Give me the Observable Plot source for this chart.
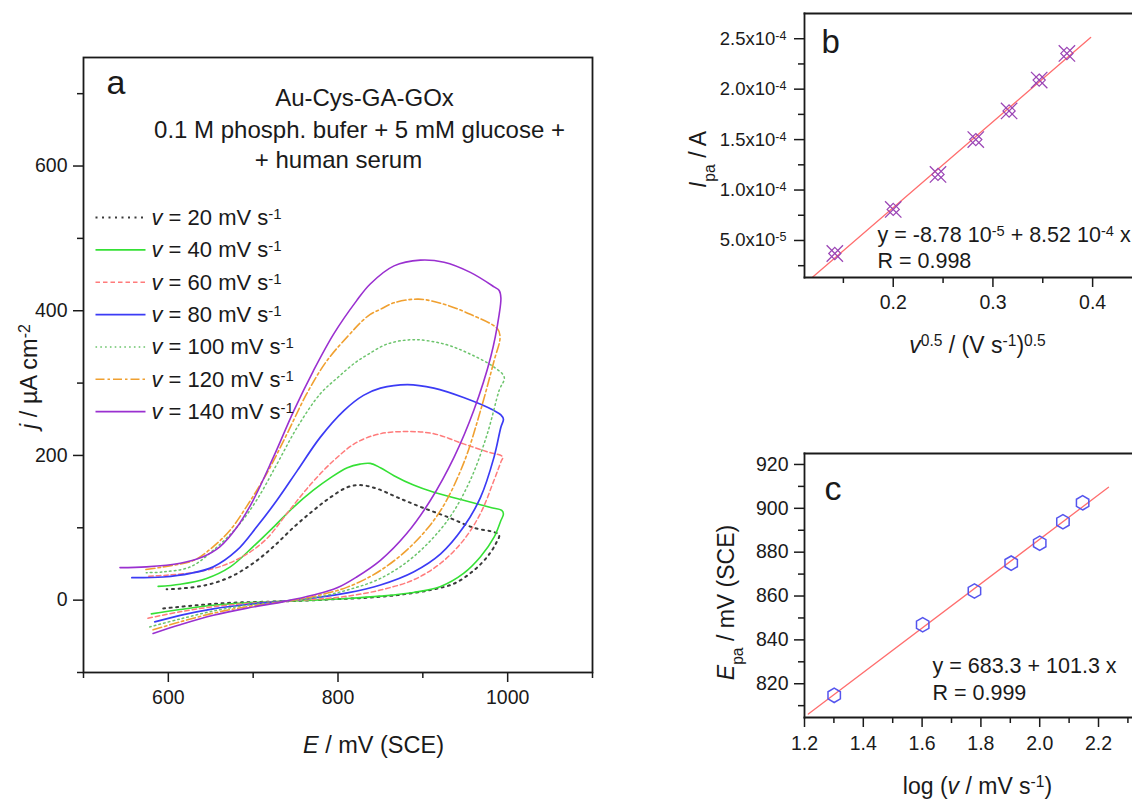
<!DOCTYPE html>
<html><head><meta charset="utf-8">
<script src="https://cdn.jsdelivr.net/npm/d3@7"></script>
<script src="https://cdn.jsdelivr.net/npm/@observablehq/plot@0.6"></script>
<style>
body{margin:0;background:#fff;}
#wrap{position:relative;width:1132px;height:800px;overflow:hidden;background:#fff;}
#wrap svg{position:absolute;}
</style></head><body><div id="wrap"></div>
<script>
// ---------------- data: panel a (cyclic voltammograms, [E mV, j µA cm-2]) ----------------
const scanRates = [20, 40, 60, 80, 100, 120, 140];
const cv20 = [[594,-11.5],[634,-7],[673,-3.7],[712,-2.3],[752,-1],[791,1],[830,3],[870,7],[909,14],[937,23],[960,41],[976,60],[986,78],[990,90],[984,94],[960,100],[929,115],[897,129],[870,142],[846,154],[826,159],[811,156],[791,142],[771,124],[748,101],[724,74],[700,51],[673,32],[645,21],[614,16],[598,15]];
const cv40 = [[580,-19],[614,-13],[653,-7],[693,-3.7],[736,-1.4],[771,0],[811,2.3],[850,5.5],[889,10.6],[921,19],[948,37],[968,60],[984,87],[992,110],[995,119],[993,124],[980,128],[948,138],[913,149],[889,159],[866,172],[850,183],[838,189],[826,188],[811,183],[791,169],[771,152],[748,129],[724,101],[700,74],[673,46],[645,30],[614,22],[588,19]];
const cv60 = [[576,-25],[614,-16],[653,-9],[693,-4.6],[736,-1.4],[771,1],[811,5.5],[850,14],[889,28],[921,51],[948,83],[968,120],[984,166],[992,191],[994,198],[976,205],[948,216],[913,230],[882,233],[850,230],[822,218],[795,193],[767,159],[740,120],[716,85],[693,64],[665,48],[634,39],[598,34.5],[574,33]];
const cv80 = [[584,-30],[614,-21],[653,-12],[693,-6],[736,-1.5],[771,3],[811,10],[850,21],[889,39],[921,64],[948,101],[968,142],[984,198],[992,239],[995,250],[992,256],[984,262],[948,280],[913,293],[882,298],[850,293],[830,283],[807,262],[779,225],[752,179],[728,138],[704,101],[681,69],[653,46],[626,37],[594,32],[557,31]];
const cv100 = [[578,-37],[614,-26],[653,-15],[693,-7],[736,-2],[771,3],[811,14],[850,30],[889,60],[929,110],[956,166],[976,230],[990,290],[996,308],[984,322],[956,340],[925,354],[889,360],[858,354],[836,340],[820,328],[800,308],[779,285],[752,239],[728,188],[704,138],[681,101],[653,69],[626,46],[594,39],[574,38]];
const cv120 = [[582,-41],[614,-30],[653,-18],[693,-9],[736,-2],[771,5],[811,18],[850,41],[889,78],[921,124],[948,189],[968,262],[984,331],[991,363],[988,375],[956,395],[925,409],[895,416],[866,411],[850,402],[838,395],[826,383],[818,373],[787,331],[763,285],[740,230],[716,175],[692,129],[673,97],[653,74],[630,55],[594,46],[572,42]];
const cv140 = [[582,-46],[614,-34],[653,-21],[693,-11],[736,-2],[771,7],[799,17],[822,32],[850,55],[881,92],[909,138],[937,198],[960,262],[980,336],[990,395],[992,418],[990,428],[984,433],[956,453],[925,467],[897,470],[866,462],[838,437],[822,414],[795,368],[771,317],[748,262],[724,198],[700,138],[681,101],[661,74],[641,60],[614,51],[574,46],[543,45]];
const cvCurves = [cv20, cv40, cv60, cv80, cv100, cv120, cv140];
const aXTicks = [600, 800, 1000];
const aXMinor = [500, 700, 900, 1100];
const aYTicks = [0, 200, 400, 600];
const aYMinor = [-100, 100, 300, 500, 700];
const aTitle = ["Au-Cys-GA-GOx", "0.1 M phosph. bufer + 5 mM glucose +", "+ human serum"];

// ---------------- data: panel b ----------------
const bX = [0.1414, 0.2000, 0.2449, 0.2828, 0.3162, 0.3464, 0.3742];
const bY = [3.71e-5, 8.08e-5, 1.155e-4, 1.50e-4, 1.784e-4, 2.09e-4, 2.354e-4];
const bFitX = [0.119, 0.398];
const bFitY = [1.35e-5, 2.513e-4];
const bXTicks = [0.2, 0.3, 0.4];
const bXMinor = [0.15, 0.25, 0.35];
const bYTicks = [5e-5, 1e-4, 1.5e-4, 2e-4, 2.5e-4];
const bYLabels = ["5.0x10^{-5}", "1.0x10^{-4}", "1.5x10^{-4}", "2.0x10^{-4}", "2.5x10^{-4}"];
const bYMinor = [2.5e-5, 7.5e-5, 1.25e-4, 1.75e-4, 2.25e-4];

// ---------------- data: panel c ----------------
const cX = [1.301, 1.602, 1.778, 1.903, 2.000, 2.079, 2.146];
const cY = [814.7, 846.9, 862.3, 875.0, 884.1, 893.9, 902.5];
const cFitX = [1.213, 2.234];
const cFitY = [806.2, 909.6];
const cXTicks = [1.2, 1.4, 1.6, 1.8, 2.0, 2.2];
const cXLabels = ["1.2", "1.4", "1.6", "1.8", "2.0", "2.2"];
const cXMinor = [1.3, 1.5, 1.7, 1.9, 2.1, 2.3];
const cYTicks = [820, 840, 860, 880, 900, 920];
const cYMinor = [810, 830, 850, 870, 890, 910];

// ---------------- styles ----------------
const FONT = '"Liberation Sans", Arial, Helvetica, sans-serif';
const INK = "#1a1a1a";
const seriesStyle = [
  {stroke: "#3a3a3a", dash: "2,4.5", w: 2},
  {stroke: "#35e035", dash: null, w: 1.6},
  {stroke: "#ff7b7b", dash: "4.5,3", w: 1.5},
  {stroke: "#3b3bf5", dash: null, w: 1.7},
  {stroke: "#6cc46c", dash: "1.6,3.2", w: 1.5},
  {stroke: "#f0a030", dash: "9,3,2.5,3", w: 1.6},
  {stroke: "#9a30d0", dash: null, w: 1.6}
];
const FIT = "#ff6e6e";

// annotation helper: absolute page position -> frame-relative offset
function ann(g, txt, px, py, o = {}) {
  return Plot.text([txt], {
    frameAnchor: "top-left", text: d => d,
    dx: px - g.left - g.ml, dy: py - g.top - g.mt,
    lineAnchor: "bottom", textAnchor: o.anchor || "start",
    fontSize: o.size || 20, rotate: o.rotate || 0, fill: INK
  });
}
function axes(xt, xm, yt, ym, o) {
  return [
    Plot.axisX(xt, {anchor: "bottom", tickSize: 10, tickPadding: o.xpad, tickFormat: o.xf, label: null, fontSize: o.fs, strokeWidth: 1.5, stroke: INK, fill: INK}),
    Plot.axisX(xm, {anchor: "bottom", tickSize: 6, tickFormat: () => "", label: null, strokeWidth: 1.5, stroke: INK}),
    Plot.axisY(yt, {anchor: "left", tickSize: 10, tickPadding: o.ypad, tickFormat: o.yf, label: null, fontSize: o.yfs || o.fs, strokeWidth: 1.5, stroke: INK, fill: INK}),
    Plot.axisY(ym, {anchor: "left", tickSize: 6, tickFormat: () => "", label: null, strokeWidth: 1.5, stroke: INK})
  ];
}
function rich(svg) {
  d3.select(svg).selectAll("text").each(function () {
    const s = this.textContent;
    if (!/\^\{|_\{|\*/.test(s)) return;
    const parts = s.split(/(\^\{[^}]*\}|_\{[^}]*\}|\*[^*]+\*)/).filter(p => p);
    this.textContent = "";
    const el = d3.select(this);
    for (const p of parts) {
      const t = el.append("tspan");
      if (p.startsWith("^{")) t.text(p.slice(2, -1)).attr("baseline-shift", "42%").attr("font-size", "68%");
      else if (p.startsWith("_{")) t.text(p.slice(2, -1)).attr("baseline-shift", "sub").attr("font-size", "68%");
      else if (p.startsWith("*")) t.text(p.slice(1, -1)).attr("font-style", "italic");
      else t.text(p);
    }
  });
}
const wrap = document.getElementById("wrap");
function place(svg, g) {
  svg.style.left = g.left + "px";
  svg.style.top = g.top + "px";
  rich(svg);
  wrap.appendChild(svg);
}

// ---------------- panel a ----------------
const A = {left: 0, top: 0, ml: 83, mt: 57, w: 600, h: 770, mr: 8, mb: 98};
const aXD = [500, 1100], aYD = [-100, 750];
const ax = px => aXD[0] + (px - A.ml) * (aXD[1] - aXD[0]) / (A.w - A.ml - A.mr);
const ay = py => aYD[1] - (py - A.mt) * (aYD[1] - aYD[0]) / (A.h - A.mt - A.mb);
const aMarks = [];
cvCurves.forEach((c, i) => {
  const s = seriesStyle[i];
  aMarks.push(Plot.line(c, {x: d => d[0], y: d => d[1], curve: "catmull-rom", stroke: s.stroke, strokeWidth: s.w, strokeDasharray: s.dash}));
});
scanRates.forEach((r, i) => {
  const s = seriesStyle[i];
  const base = 224.5 + i * 32.35;
  aMarks.push(Plot.link([r], {x1: ax(95), x2: ax(145), y1: ay(base - 7.5), y2: ay(base - 7.5), stroke: s.stroke, strokeWidth: s.w, strokeDasharray: s.dash}));
  aMarks.push(ann(A, `*v* = ${r} mV s^{-1}`, 151, base, {size: 22}));
});
aMarks.push(ann(A, "a", 106, 93, {size: 34}));
aMarks.push(ann(A, aTitle[0], 364, 105, {size: 24, anchor: "middle"}));
aMarks.push(ann(A, aTitle[1], 359, 137, {size: 24, anchor: "middle"}));
aMarks.push(ann(A, aTitle[2], 338, 167, {size: 24, anchor: "middle"}));
aMarks.push(ann(A, "*E* / mV (SCE)", 373, 752, {size: 23.5, anchor: "middle"}));
aMarks.push(ann(A, "*j* / µA cm^{-2}", 36, 376, {size: 23.5, anchor: "middle", rotate: -90}));
const plotA = Plot.plot({
  width: A.w, height: A.h, marginLeft: A.ml, marginRight: A.mr, marginTop: A.mt, marginBottom: A.mb,
  x: {domain: aXD}, y: {domain: aYD},
  style: {fontFamily: FONT, fontSize: "19.5px", color: INK, background: "transparent"},
  marks: [
    ...axes(aXTicks, aXMinor, aYTicks, aYMinor, {xpad: 8, ypad: 6, fs: 19.5, xf: d => String(d), yf: d => String(d)}),
    ...aMarks,
    Plot.frame({stroke: INK, strokeWidth: 1.8})
  ]
});
place(plotA, A);

// ---------------- panel b ----------------
const B = {left: 680, top: 0, ml: 124, mt: 13, w: 452, h: 370, mr: 0, mb: 93};
const bPts = bX.map((x, i) => ({x, y: bY[i]}));
const bFit = bFitX.map((x, i) => ({x, y: bFitY[i]}));
const plotB = Plot.plot({
  width: B.w, height: B.h, marginLeft: B.ml, marginRight: B.mr, marginTop: B.mt, marginBottom: B.mb,
  x: {domain: [0.111, 0.44]}, y: {domain: [1.33e-5, 2.75e-4]},
  style: {fontFamily: FONT, fontSize: "19.5px", color: INK, background: "transparent"},
  marks: [
    ...axes(bXTicks, bXMinor, bYTicks, bYMinor, {xpad: 8, ypad: 8, fs: 19.5, yfs: 18.5, xf: d => String(d), yf: d => bYLabels[bYTicks.indexOf(d)]}),
    Plot.line(bFit, {x: "x", y: "y", stroke: FIT, strokeWidth: 1.3}),
    Plot.dot(bPts, {x: "x", y: "y", symbol: "times", r: 7.5, stroke: "#9b45b5", strokeWidth: 1.3}),
    Plot.dot(bPts, {x: "x", y: "y", symbol: "diamond2", r: 5.5, stroke: "#9b45b5", strokeWidth: 1.2}),
    ann(B, "b", 821, 52, {size: 33}),
    ann(B, "y = -8.78 10^{-5} + 8.52 10^{-4} x", 877, 241, {size: 21.5}),
    ann(B, "R = 0.998", 877, 267, {size: 21.5}),
    ann(B, "*v*^{0.5} / (V s^{-1})^{0.5}", 977, 352, {size: 23, anchor: "middle"}),
    ann(B, "*I*_{pa} / A", 705, 159, {size: 23, anchor: "middle", rotate: -90}),
    Plot.frame({anchor: "top", stroke: INK, strokeWidth: 1.8}),
    Plot.frame({anchor: "left", stroke: INK, strokeWidth: 1.8}),
    Plot.frame({anchor: "bottom", stroke: INK, strokeWidth: 1.8})
  ]
});
place(plotB, B);

// ---------------- panel c ----------------
const C = {left: 680, top: 440, ml: 124, mt: 13, w: 452, h: 360, mr: 0, mb: 83};
const cPts = cX.map((x, i) => ({x, y: cY[i]}));
const cFit = cFitX.map((x, i) => ({x, y: cFitY[i]}));
const plotC = Plot.plot({
  width: C.w, height: C.h, marginLeft: C.ml, marginRight: C.mr, marginTop: C.mt, marginBottom: C.mb,
  x: {domain: [1.2, 2.3156]}, y: {domain: [804.6, 925]},
  style: {fontFamily: FONT, fontSize: "19.5px", color: INK, background: "transparent"},
  marks: [
    ...axes(cXTicks, cXMinor, cYTicks, cYMinor, {xpad: 9, ypad: 6, fs: 19.5, xf: d => cXLabels[cXTicks.indexOf(d)], yf: d => String(d)}),
    Plot.line(cFit, {x: "x", y: "y", stroke: FIT, strokeWidth: 1.3}),
    Plot.dot(cPts, {x: "x", y: "y", symbol: "hexagon", r: 6.2, stroke: "#5555ee", strokeWidth: 1.5, fill: "none"}),
    ann(C, "c", 824, 499, {size: 34}),
    ann(C, "y = 683.3 + 101.3 x", 932, 672, {size: 21.5}),
    ann(C, "R = 0.999", 932, 699, {size: 21.5}),
    ann(C, "log (*v* / mV s^{-1})", 977, 793, {size: 23, anchor: "middle"}),
    ann(C, "*E*_{pa} / mV (SCE)", 733, 602, {size: 23, anchor: "middle", rotate: -90}),
    Plot.frame({anchor: "top", stroke: INK, strokeWidth: 1.8}),
    Plot.frame({anchor: "left", stroke: INK, strokeWidth: 1.8}),
    Plot.frame({anchor: "bottom", stroke: INK, strokeWidth: 1.8})
  ]
});
place(plotC, C);
</script></body></html>
